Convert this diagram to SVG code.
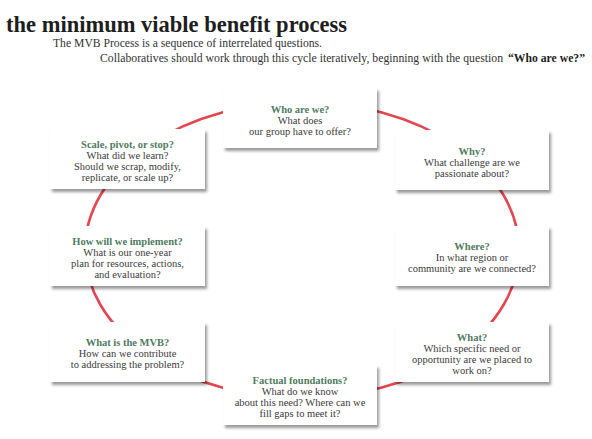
<svg xmlns="http://www.w3.org/2000/svg" width="592" height="439" viewBox="0 0 592 439">
<style>
.title{font-family:"Liberation Serif",serif;font-weight:bold;font-size:23px;fill:#1e1e1e}
.sub{font-family:"Liberation Serif",serif;font-size:12px;fill:#333}
.subb{font-family:"Liberation Serif",serif;font-size:12px;font-weight:bold;fill:#1e1e1e}
.box{fill:#fff;filter:url(#sh)}
.h{font-family:"Liberation Serif",serif;font-weight:bold;font-size:10.5px;fill:#4f7b5f;text-anchor:middle}
.t{font-family:"Liberation Serif",serif;font-size:10.5px;fill:#3a3a3a;text-anchor:middle}
.ring{fill:none;stroke:#e4464f;stroke-width:2.6}
</style>
<defs>
<filter id="sh" x="-10%" y="-20%" width="125%" height="150%">
<feDropShadow dx="2" dy="3" stdDeviation="1.6" flood-color="#000" flood-opacity="0.4"/>
</filter>
</defs>
<rect width="592" height="439" fill="#fff"/>
<g id="header">
<text class="title" x="6" y="32" textLength="341" lengthAdjust="spacingAndGlyphs">the minimum viable benefit process</text>
<text class="sub" x="53" y="47" textLength="269" lengthAdjust="spacingAndGlyphs">The MVB Process is a sequence of interrelated questions.</text>
<text class="sub" x="100" y="62" textLength="403" lengthAdjust="spacingAndGlyphs">Collaboratives should work through this cycle iteratively, beginning with the question</text>
<text class="subb" x="508" y="62" textLength="77" lengthAdjust="spacingAndGlyphs">“Who are we?”</text>
</g>
<g id="connectors">
<ellipse class="ring" cx="302" cy="250" rx="217" ry="148"/>
</g>
<g id="who">
<rect class="box" x="223" y="88" width="154" height="60"/>
<text class="h" x="300" y="112.5">Who are we?</text>
<text class="t" x="300" y="123.5">What does</text>
<text class="t" x="300" y="134.5">our group have to offer?</text>
</g>
<g id="why">
<rect class="box" x="395" y="130" width="154" height="60"/>
<text class="h" x="472" y="154.5">Why?</text>
<text class="t" x="472" y="165.5">What challenge are we</text>
<text class="t" x="472" y="176.5">passionate about?</text>
</g>
<g id="where">
<rect class="box" x="395" y="226" width="154" height="60"/>
<text class="h" x="472" y="250">Where?</text>
<text class="t" x="472" y="261">In what region or</text>
<text class="t" x="472" y="272">community are we connected?</text>
</g>
<g id="what">
<rect class="box" x="395" y="322" width="154" height="60"/>
<text class="h" x="472" y="340.5">What?</text>
<text class="t" x="472" y="351.5">Which specific need or</text>
<text class="t" x="472" y="362.5">opportunity are we placed to</text>
<text class="t" x="472" y="373.5">work on?</text>
</g>
<g id="factual">
<rect class="box" x="223" y="365" width="154" height="60"/>
<text class="h" x="300" y="384">Factual foundations?</text>
<text class="t" x="300" y="395">What do we know</text>
<text class="t" x="300" y="406">about this need? Where can we</text>
<text class="t" x="300" y="417">fill gaps to meet it?</text>
</g>
<g id="mvb">
<rect class="box" x="50" y="322" width="155" height="60"/>
<text class="h" x="127.5" y="346">What is the MVB?</text>
<text class="t" x="127.5" y="357">How can we contribute</text>
<text class="t" x="127.5" y="368">to addressing the problem?</text>
</g>
<g id="how">
<rect class="box" x="50" y="226" width="155" height="60"/>
<text class="h" x="127.5" y="245">How will we implement?</text>
<text class="t" x="127.5" y="256">What is our one-year</text>
<text class="t" x="127.5" y="267">plan for resources, actions,</text>
<text class="t" x="127.5" y="278">and evaluation?</text>
</g>
<g id="scale">
<rect class="box" x="50" y="129" width="155" height="60"/>
<text class="h" x="127.5" y="148">Scale, pivot, or stop?</text>
<text class="t" x="127.5" y="159">What did we learn?</text>
<text class="t" x="127.5" y="170">Should we scrap, modify,</text>
<text class="t" x="127.5" y="181">replicate, or scale up?</text>
</g>
</svg>
